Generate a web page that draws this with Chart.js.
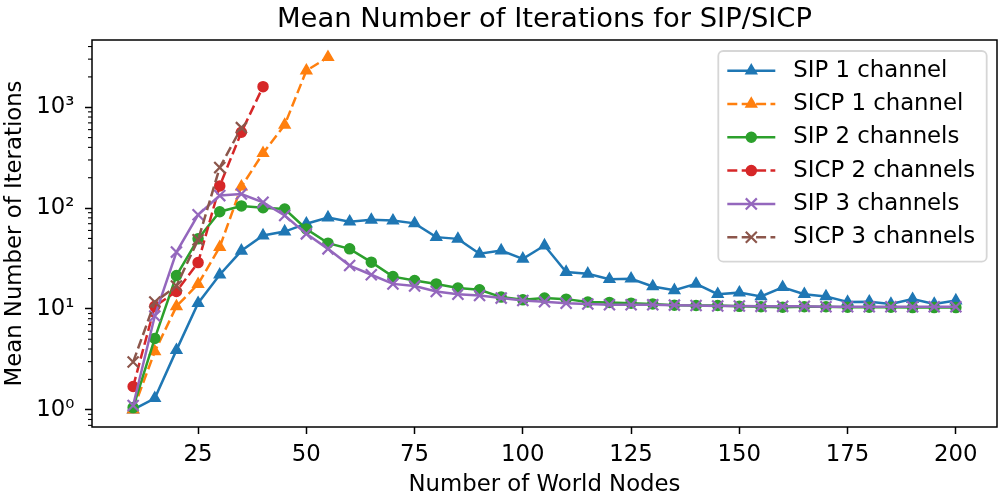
<!DOCTYPE html>
<html><head><meta charset="utf-8">
<script src="https://cdn.jsdelivr.net/npm/chart.js@4"></script>
<style>html,body{margin:0;padding:0;background:#fff}canvas{display:block}</style>
</head><body>
<canvas id="c" width="999" height="497"></canvas>
<script>
const chartTitle = 'Mean Number of Iterations for SIP/SICP';
const xAxisTitle = 'Number of World Nodes';
const yAxisTitle = 'Mean Number of Iterations';

const nodes = [10,15,20,25,30,35,40,45,50,55,60,65,70,75,80,85,90,95,100,105,110,115,120,125,130,135,140,145,150,155,160,165,170,175,180,185,190,195,200];

const sip1 = [1.0,1.3,3.9,11.4,21.8,37.7,53.4,58.5,70,80.5,73.3,76.4,75.1,70.5,51.5,49.5,35.2,37.9,31.4,42.5,23.2,22.3,19.7,19.9,16.7,15.3,17.7,14.0,14.5,13.3,16.4,14.0,13.3,11.7,11.8,11.2,12.5,11.2,12.1];
const sicp1 = [1.0,3.78,10.6,17.6,41,163,350,668,2306,3133];
const sip2 = [1.05,5.1,21.4,49.5,92,105,101,98,62,44.9,39.4,29.1,20.9,19.1,17.7,16.1,15.5,13.1,12.3,12.8,12.5,11.7,11.6,11.4,11.2,10.9,10.8,10.8,10.6,10.5,10.4,10.5,10.5,10.4,10.4,10.4,10.3,10.3,10.3];
const sicp2 = [1.70,10.6,14.9,28.8,166,565,1600];
const sip3 = [1.10,8.5,36.6,85.7,133,138,114,84.3,55.5,39.4,26.9,21.8,17.7,16.9,14.9,14.0,13.6,12.8,12.1,11.8,11.4,11.2,11.0,11.0,11.0,10.9,10.8,10.7,10.7,10.6,10.6,10.6,10.5,10.5,10.5,10.5,10.5,10.5,10.5];
const sicp3 = [2.97,11.7,16.9,48.4,252,628];

const xTickValues = [25,50,75,100,125,150,175,200];
const yTickValues = [1,10,100,1000];
const yTickLabels = ['10\u2070','10\u00B9','10\u00B2','10\u00B3'];

const FONT = "'DejaVu Sans'";
const pts = vals => vals.map((v, i) => ({x: nodes[i], y: v}));
const DASH = [10, 4.4];

function ds(label, vals, color, dashed, style, order) {
  const cross = style === 'crossRot';
  return {
    label, data: pts(vals), order,
    borderColor: color, backgroundColor: color,
    borderWidth: 2.5, borderDash: dashed ? DASH : [],
    tension: 0, fill: false,
    pointStyle: style,
    pointRadius: cross ? 7.8 : (style === 'triangle' ? 6.2 : 5),
    pointHoverRadius: cross ? 7.8 : 6,
    pointBorderWidth: cross ? 2.2 : 1.5,
    pointBackgroundColor: color, pointBorderColor: color
  };
}

const datasets = [
  ds('SIP 1 channel', sip1, '#1f77b4', false, 'triangle', 6),
  ds('SICP 1 channel', sicp1, '#ff7f0e', true, 'triangle', 5),
  ds('SIP 2 channels', sip2, '#2ca02c', false, 'circle', 4),
  ds('SICP 2 channels', sicp2, '#d62728', true, 'circle', 3),
  ds('SIP 3 channels', sip3, '#9467bd', false, 'crossRot', 2),
  ds('SICP 3 channels', sicp3, '#8c564b', true, 'crossRot', 1)
];

function marker(ctx, style, x, y, r, color, bw) {
  ctx.save();
  ctx.setLineDash([]);
  ctx.fillStyle = color; ctx.strokeStyle = color; ctx.lineWidth = bw;
  ctx.beginPath();
  if (style === 'triangle') {
    for (let k = 0; k < 3; k++) {
      const ang = -Math.PI/2 + k * 2*Math.PI/3;
      const px = x + Math.cos(ang)*r, py = y + Math.sin(ang)*r;
      k ? ctx.lineTo(px, py) : ctx.moveTo(px, py);
    }
    ctx.closePath(); ctx.fill(); ctx.stroke();
  } else if (style === 'circle') {
    ctx.arc(x, y, r, 0, Math.PI*2); ctx.fill(); ctx.stroke();
  } else {
    const d = r * Math.SQRT1_2;
    ctx.moveTo(x-d, y-d); ctx.lineTo(x+d, y+d);
    ctx.moveTo(x-d, y+d); ctx.lineTo(x+d, y-d);
    ctx.stroke();
  }
  ctx.restore();
}

const decor = {
  id: 'decor',
  afterDatasetsDraw(chart) {
    const {ctx, chartArea: a} = chart;
    const y = chart.scales.y;
    ctx.save();
    ctx.strokeStyle = '#000'; ctx.lineWidth = 1.1;
    for (let e = -1; e <= 4; e++) {
      for (let m = 2; m <= 9; m++) {
        const v = m * Math.pow(10, e);
        if (v < y.min || v > y.max) continue;
        const p = y.getPixelForValue(v);
        ctx.beginPath(); ctx.moveTo(a.left - 4, p); ctx.lineTo(a.left, p); ctx.stroke();
      }
    }
    ctx.lineWidth = 1.5;
    ctx.strokeRect(a.left, a.top, a.right - a.left, a.bottom - a.top);
    ctx.fillStyle = '#000';
    ctx.font = "27.4px " + FONT;
    ctx.textAlign = 'center'; ctx.textBaseline = 'alphabetic';
    ctx.fillText(chartTitle, (a.left + a.right) / 2, 26.7);
    ctx.restore();
  },
  afterDraw(chart) {
    const {ctx} = chart;
    ctx.save();
    const bx = 718.3, by = 51, bw = 268.4, bh = 210.7, rr = 5;
    ctx.beginPath();
    ctx.roundRect(bx, by, bw, bh, rr);
    ctx.fillStyle = 'rgba(255,255,255,0.8)';
    ctx.fill();
    ctx.strokeStyle = 'rgba(204,204,204,0.8)';
    ctx.lineWidth = 1.8;
    ctx.stroke();
    ctx.font = "22.8px " + FONT;
    ctx.textAlign = 'left'; ctx.textBaseline = 'middle';
    chart.data.datasets.forEach((d, i) => {
      const ry = 70.7 + i * 33.3;
      ctx.save();
      ctx.strokeStyle = d.borderColor; ctx.lineWidth = d.borderWidth;
      ctx.setLineDash(d.borderDash);
      ctx.beginPath(); ctx.moveTo(727.3, ry); ctx.lineTo(775.3, ry); ctx.stroke();
      ctx.restore();
      marker(ctx, d.pointStyle, 751.3, ry, d.pointRadius, d.borderColor, d.pointBorderWidth);
      ctx.fillStyle = '#000';
      ctx.fillText(d.label, 793.3, ry);
    });
    ctx.restore();
  }
};

Chart.defaults.color = '#000';
Chart.defaults.font.family = FONT;

new Chart(document.getElementById('c'), {
  type: 'line',
  data: { datasets },
  options: {
    responsive: false, animation: false, devicePixelRatio: 1,
    layout: { autoPadding: false, padding: { top: 40, right: 2, left: 0, bottom: 0 } },
    plugins: { legend: { display: false }, tooltip: { enabled: false }, title: { display: false } },
    scales: {
      x: {
        type: 'linear', min: 0.5, max: 209.5, bounds: 'data',
        afterFit: s => { s.height = 70; s.paddingLeft = 0; s.paddingRight = 0; },
        afterBuildTicks: s => { s.ticks = xTickValues.map(v => ({value: v})); },
        ticks: { font: { size: 22.8 }, padding: 7, maxRotation: 0, autoSkip: false, color: '#000' },
        grid: { display: true, drawOnChartArea: false, drawTicks: true, tickLength: 7, tickWidth: 1.5, tickColor: '#000' },
        border: { display: false },
        title: { display: true, text: xAxisTitle, font: { size: 22.8, lineHeight: 1 }, padding: { top: 0, bottom: 0.7 }, color: '#000' }
      },
      y: {
        type: 'logarithmic', min: 0.674, max: 4645, bounds: 'data',
        afterFit: s => { s.width = 92; s.paddingTop = 0; s.paddingBottom = 0; },
        afterBuildTicks: s => { s.ticks = yTickValues.map(v => ({value: v})); },
        ticks: { font: { size: 22.8 }, padding: 10.5, autoSkip: false, color: '#000',
          callback: (v) => { const i = yTickValues.indexOf(v); return i >= 0 ? yTickLabels[i] : ''; } },
        grid: { display: true, drawOnChartArea: false, drawTicks: true, tickLength: 7, tickWidth: 1.5, tickColor: '#000' },
        border: { display: false },
        title: { display: true, text: yAxisTitle, font: { size: 22.8, lineHeight: 1 }, padding: { top: 3.6, bottom: 0 }, color: '#000' }
      }
    }
  },
  plugins: [decor]
});
</script>
</body></html>
